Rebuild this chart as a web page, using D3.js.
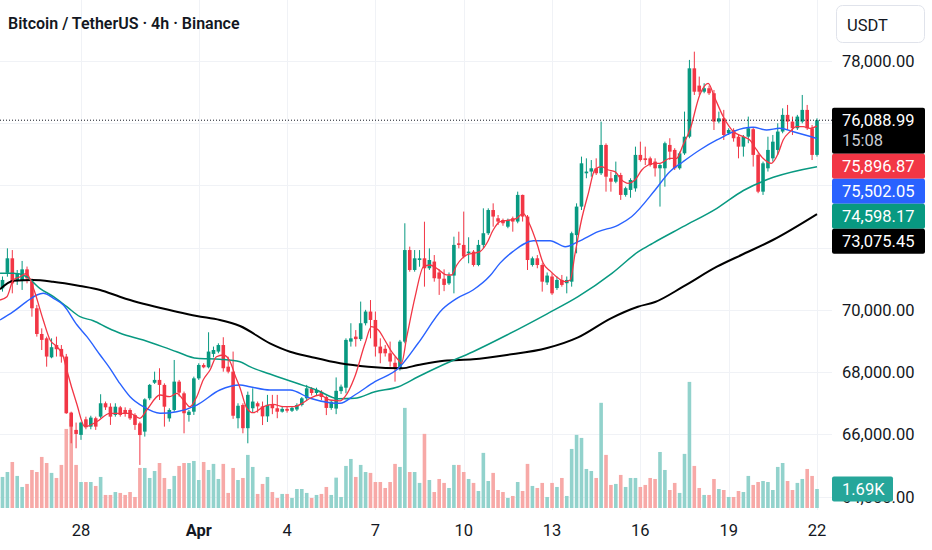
<!DOCTYPE html>
<html>
<head>
<meta charset="utf-8">
<script src="https://cdn.jsdelivr.net/npm/d3@7"></script>
<style>
  html, body { margin: 0; padding: 0; background: #fff; }
  svg { display: block; font-family: Roboto, "Noto Sans", sans-serif; }
</style>
</head>
<body>
<svg id="chart" width="932" height="550"></svg>
<script>
// BTC/USDT 4h candles, first bar = Mar 25 08:00 UTC, last bar = Apr 22 00:00 UTC
const opens = [
  70690, 71190, 71655, 70960, 70960, 71300, 70905, 70050, 69225, 69085, 68475, 68870,
  68745, 68500, 66700, 66145, 65985, 66485, 66250, 66520, 66570, 67000, 66890, 66625,
  66870, 66785, 66785, 66625, 66355, 66090, 67160, 67660, 67750, 67590, 66515, 66785,
  67695, 67320, 66625, 66730, 67800, 68230, 68155, 68585, 68660, 68870, 68175, 68015,
  66520, 66945, 66200, 66840, 67000, 66900, 66580, 66950, 66840, 66730, 66820, 66760,
  66800, 66945, 67160, 67480, 67330, 67370, 67200, 66850, 66830, 67390, 67500, 68980,
  69140, 69060, 69570, 69945, 69675, 68820, 68750, 68605, 68300, 68125, 68980, 71920,
  71280, 71600, 71655, 71335, 71550, 71200, 71000, 70850, 71100, 72135, 72085, 71815,
  71870, 71440, 72085, 72460, 73205, 72940, 72885, 72670, 72940, 72835, 73690, 72995,
  71440, 71655, 71440, 70880, 71070, 70700, 70960, 70855, 70905, 72400, 73315, 74385,
  74440, 74545, 74385, 75295, 74225, 74115, 74330, 73690, 73850, 73900, 74975, 74865,
  74865, 74760, 74545, 74545, 75295, 75135, 74545, 75025, 75560, 77755, 77200, 77005,
  77115, 76955, 76045, 76150, 75670, 75775, 75560, 75240, 75560, 75800, 74975, 73795,
  74545, 74865, 75135, 75725, 76260, 76045, 75830, 76045, 76420, 75830, 74975
];
const highs = [
  71070, 71975, 71920, 71280, 71570, 71390, 71010, 70160, 69405, 69140, 69085, 69140,
  68870, 68585, 66730, 66380, 66410, 66570, 66600, 66570, 67290, 67055, 67000, 67000,
  66915, 66870, 66840, 66680, 66410, 67160, 67620, 68015, 68125, 67640, 66840, 68390,
  67750, 67375, 66785, 67855, 68285, 68285, 69280, 68820, 68925, 69120, 68495, 68660,
  67000, 67000, 67375, 67480, 67055, 67055, 67270, 67270, 67270, 66900, 66880, 66900,
  67000, 67200, 67590, 67520, 67500, 67420, 67250, 67100, 67830, 67600, 69085, 69570,
  69350, 70265, 70000, 70315, 69945, 69085, 68870, 68980, 68500, 69035, 72780, 72030,
  71920, 71920, 72830, 71975, 71760, 71300, 71300, 71200, 72350, 72510, 73155, 72330,
  71920, 72245, 73260, 73260, 73420, 73045, 72930, 72930, 72995, 73795, 73700, 73045,
  71710, 71760, 71495, 71200, 71175, 71070, 71120, 71070, 72510, 73420, 74920, 74865,
  74810, 74865, 76045, 75345, 74440, 74760, 74400, 73955, 74225, 75240, 75400, 75240,
  74920, 74865, 74705, 75400, 75510, 75190, 75080, 76365, 78025, 78290, 77490, 77275,
  77200, 77060, 76365, 76420, 75830, 75830, 75615, 75615, 76205, 75850, 75025, 74760,
  75560, 75615, 75990, 76470, 76580, 76205, 76260, 76900, 76580, 75935, 76150
];
const lows = [
  70585, 71065, 70530, 70800, 70640, 70850, 69780, 69140, 68710, 68175, 68445, 68500,
  68305, 66660, 65715, 65555, 65825, 66165, 66165, 66145, 66520, 66785, 66305, 66570,
  66570, 66570, 66465, 66145, 65020, 65930, 67100, 67620, 67105, 66250, 66410, 66730,
  67215, 66035, 66410, 66625, 67750, 68125, 68120, 68475, 68605, 68015, 67960, 66500,
  66195, 66035, 65715, 66700, 66700, 66300, 66400, 66650, 66520, 66700, 66700, 66720,
  66750, 66900, 67100, 67250, 67250, 67100, 66620, 66790, 66650, 67300, 67320, 68820,
  68820, 69000, 69500, 69085, 68500, 68285, 68500, 68175, 67695, 68050, 68925, 71225,
  71225, 71385, 70745, 71280, 70905, 70480, 70600, 70800, 70530, 71975, 71655, 71495,
  71390, 71400, 71975, 72405, 72670, 72725, 72700, 72620, 72510, 72780, 72835, 71280,
  71390, 71335, 70585, 70800, 70480, 70640, 70745, 70530, 70745, 71815, 73205, 74225,
  74275, 74330, 74330, 73795, 73795, 74065, 73530, 73635, 73600, 73795, 74760, 74650,
  74600, 74280, 73315, 73955, 74810, 74490, 74500, 74975, 75510, 76900, 76900, 76955,
  76900, 75775, 75990, 75455, 75615, 75400, 74865, 74920, 75350, 74600, 73745, 73690,
  74440, 74760, 74975, 75670, 75775, 75615, 75775, 75990, 75775, 74810, 74920
];
const closes = [
  70960, 71655, 70850, 71170, 71300, 71010, 70050, 69225, 69035, 68500, 68800, 68735,
  68500, 66680, 66250, 66015, 66380, 66230, 66540, 66250, 67000, 66870, 66570, 66890,
  66625, 66680, 66515, 66305, 65980, 67125, 67590, 67750, 67590, 66890, 66785, 67695,
  67340, 66680, 66730, 67800, 68230, 68155, 68660, 68710, 68870, 68125, 68015, 66600,
  66920, 66200, 67270, 67055, 66900, 66580, 66950, 66840, 66730, 66820, 66760, 66850,
  66945, 67160, 67480, 67330, 67430, 67200, 66850, 67050, 67400, 67535, 69035, 69085,
  69060, 69570, 69945, 69675, 68820, 68605, 68605, 68340, 68125, 68980, 71920, 71280,
  71655, 71655, 71335, 71600, 71015, 71000, 70800, 71100, 72085, 72085, 71710, 71870,
  71440, 72085, 72460, 73205, 72995, 72835, 72780, 72885, 72835, 73690, 72995, 71600,
  71655, 71440, 70905, 71100, 70530, 70960, 70800, 70960, 72460, 73315, 74705, 74440,
  74545, 74385, 75295, 74275, 74115, 74330, 73690, 73905, 74170, 74975, 74810, 74810,
  74650, 74545, 74650, 75350, 75080, 74545, 75025, 75560, 77755, 77005, 77005, 77115,
  76955, 76045, 76150, 75615, 75775, 75510, 75240, 75560, 75830, 74975, 73795, 74705,
  75135, 75400, 75725, 76260, 76045, 75830, 76205, 76420, 75830, 74975, 76088.99
];
const volumes = [
  2760, 3200, 4090, 2850, 1870, 2140, 3380, 3200, 4540, 4000, 3120, 2670,
  3830, 7030, 7920, 3830, 2310, 2310, 2310, 1960, 2760, 1160, 1160, 1420,
  1340, 1160, 1420, 980, 3560, 3560, 2670, 3290, 4000, 2670, 1690, 2850,
  3740, 4000, 4000, 4180, 2490, 4090, 3380, 3920, 2580, 3920, 1340, 3560,
  2490, 2670, 4720, 3650, 1250, 2140, 2760, 1420, 890, 1250, 1250, 890,
  1690, 1690, 1340, 890, 1160, 1250, 1870, 1160, 2700, 980, 3740, 4360,
  2760, 3830, 3200, 3120, 2310, 2310, 1780, 2310, 3920, 3650, 8900, 3200,
  3200, 2230, 6590, 2490, 1420, 2580, 2230, 1780, 3830, 3830, 3200, 2580,
  2230, 1510, 4900, 2400, 3120, 1600, 1420, 890, 1070, 2310, 1510, 3920,
  1960, 1780, 2230, 980, 2230, 1870, 2670, 1070, 5250, 6500, 6230, 3470,
  3290, 2670, 9350, 4720, 2050, 2140, 2940, 1870, 2670, 2670, 1870, 2050,
  2670, 2580, 4980, 3380, 1600, 2230, 1340, 4810, 11210, 3740, 1780, 1160,
  1160, 2580, 1690, 1600, 980, 980, 1510, 1420, 2850, 2050, 2310, 2400,
  2310, 1600, 3650, 4000, 2400, 1600, 2230, 2580, 3470, 2850, 1690
];

// moving averages as [bars since Mar 28 00:00, value]
const maRed = [
  [-16.5, 70316], [-15.1, 70422], [-13.8, 70958], [-12.4, 71064], [-11.1, 71173], [-9.7, 70692],
  [-7.7, 69674], [-6.3, 69032], [-4.9, 68817], [-3.6, 68495], [-2.9, 68068], [-0.9, 66999],
  [0.8, 66248], [3.2, 66408], [5.9, 66678], [7.9, 66678], [10, 66678], [12, 66518],
  [13.4, 66784], [16.1, 67265], [18.1, 67211], [19.5, 67320], [20.9, 67105], [22.2, 66890],
  [23.6, 67211], [24.9, 67747], [26.3, 68068], [27.6, 68495], [29, 68550], [30.4, 68335],
  [31.5, 67853], [32.4, 67500], [33.8, 66839], [35.1, 66697], [37.2, 66890], [39.2, 66967],
  [41.2, 66890], [43.3, 66890], [45.3, 67018], [46.7, 67160], [48.7, 67265], [50.7, 67105],
  [52.8, 67080], [53.8, 67211], [55.8, 67853], [57.9, 68926], [59.2, 69459], [60.6, 69353],
  [61.9, 69032], [63.3, 68656], [64.7, 68389], [65.3, 68284], [66.4, 69138], [68.1, 70422],
  [69.8, 71385], [71.1, 71440], [72.8, 71300], [74.5, 71120], [75.5, 71119], [76.6, 71440],
  [78.6, 71761], [80, 71816], [81.3, 71867], [82.7, 72137], [84, 72564], [85.4, 72830],
  [87.4, 72885], [88.8, 72939], [90.1, 73100], [91.5, 72724], [92.9, 72137], [94.2, 71494],
  [95.6, 71250], [97.3, 71013], [98.6, 70904], [99.7, 70958], [100.7, 71816], [102, 72885],
  [103.4, 73742], [104.7, 74490], [106.1, 74596], [107.5, 74490], [108.8, 74436], [110.2, 74169],
  [111.5, 74063], [112.9, 74169], [114.3, 74490], [115.6, 74651], [117, 74705], [118, 74705],
  [120, 74866], [121.4, 74866], [122.7, 75293], [124.1, 75775], [126.1, 76899], [127.8, 77274],
  [129.2, 76793], [130.9, 76202], [133, 75720], [135, 75560], [136.3, 75454], [137.7, 75133],
  [139, 74866], [140.7, 74705], [142.1, 75027], [143.1, 75454], [144.5, 75720], [145.8, 75881],
  [147.2, 75881], [148.6, 75829], [150, 75896.87]
];
const maBlue = [
  [-16.5, 69674], [-13.8, 69941], [-11.1, 70262], [-9, 70477], [-7.7, 70531], [-5.6, 70371],
  [-3.6, 70156], [-0.8, 69513], [1.2, 69138], [3.9, 68550], [5.9, 68123], [7.9, 67641],
  [10, 67211], [12.7, 66890], [16.1, 66678], [19.5, 66729], [23.6, 66944], [28.3, 67426],
  [32.4, 67587], [34.4, 67532], [38.5, 67426], [42.6, 67426], [46.7, 67160], [50.7, 67018],
  [52.8, 67000], [55.8, 67265], [59.9, 67693], [64.7, 68123], [68.7, 68926], [73.7, 70027],
  [76.6, 70371], [79.9, 70637], [83.4, 71100], [85.4, 71500], [88, 71870], [92.2, 72220],
  [95.6, 72220], [98.7, 72028], [101.3, 72188], [105.4, 72509], [109.5, 72724], [112.2, 72991],
  [117, 73848], [120, 74436], [122.7, 74757], [126.1, 75133], [129.6, 75454], [135, 75829],
  [137, 75861], [139.7, 75775], [142.4, 75829], [145.2, 75720], [150, 75502.05]
];
const maGreen = [
  [-16.5, 71173], [-13.8, 71173], [-11.1, 71064], [-8.4, 70692], [-5.6, 70422], [-2.9, 70101],
  [-0.2, 69780], [2.5, 69651], [5.5, 69417], [8, 69247], [12.7, 69032], [19.5, 68656],
  [23.6, 68444], [28.3, 68412], [32.4, 68335], [34.4, 68175], [38.5, 67940], [44, 67641],
  [48, 67427], [52.5, 67144], [55.8, 67160], [59.9, 67372], [64.7, 67532], [68.7, 67853],
  [73.7, 68229], [79.9, 68656], [86.8, 69192], [95, 69873], [101.3, 70422], [108.2, 71173],
  [113.6, 71867], [116.5, 72137], [122.7, 72670], [129.6, 73261], [135, 73832], [141.1, 74256],
  [150, 74598.17]
];
const maBlack = [
  [-16.5, 70660], [-13.8, 70936], [-9.8, 70958], [-5.7, 70904], [-0.2, 70766], [3.9, 70637],
  [7.9, 70422], [10, 70316], [19.5, 69940], [23.6, 69802], [28.3, 69674], [32.4, 69480],
  [38.5, 68926], [42.6, 68656], [46.7, 68495], [52.8, 68284], [58.5, 68174], [65.4, 68123],
  [68.7, 68229], [74, 68367], [79.9, 68412], [86.8, 68550], [95, 68775], [101.3, 69118],
  [108, 69729], [113.5, 70101], [117, 70252], [122.7, 70743], [129.6, 71385], [135, 71793],
  [141, 72243], [150, 73075.45]
];

const priceTicks = [64000, 66000, 68000, 70000, 72000, 74000, 76000, 78000];
const dayTicks = ['2025-03-28', '2025-04-01', '2025-04-04', '2025-04-07', '2025-04-10',
                  '2025-04-13', '2025-04-16', '2025-04-19', '2025-04-22'];
const countdown = '15:08';

const UP = '#089981', DOWN = '#F23645';
const VOL_UP = '#92d2cc', VOL_DOWN = '#f7a9a7';
const plotRight = 832, volBase = 508;

const base = Date.UTC(2025, 2, 28);
const H4 = 4 * 3600 * 1000;
const firstBar = -16;
const barTime = k => new Date(base + (firstBar + k) * H4);
const maTime = i => new Date(base + i * H4);

const svg = d3.select('#chart');

const x = d3.scaleUtc()
  .domain([new Date(base), new Date(Date.UTC(2025, 3, 22))])
  .range([81, 817]);
const y = d3.scaleLinear().domain([64000, 78000]).range([496.7, 60.7]);
const yVol = d3.scaleLinear().domain([0, 12000]).range([volBase, volBase - 135]);

const bars = closes.map((c, k) => ({
  t: barTime(k), o: opens[k], h: highs[k], l: lows[k], c, v: volumes[k], up: c >= opens[k]
}));

// grid
const grid = svg.append('g').attr('stroke', '#f0f2f6').attr('stroke-width', 1);
grid.selectAll('.hg').data(priceTicks).join('line')
  .attr('x1', 0).attr('x2', plotRight)
  .attr('y1', d => Math.round(y(d)) + 0.5).attr('y2', d => Math.round(y(d)) + 0.5);
grid.selectAll('.vg').data(dayTicks).join('line')
  .attr('x1', d => Math.round(x(new Date(d))) + 0.5).attr('x2', d => Math.round(x(new Date(d))) + 0.5)
  .attr('y1', 0).attr('y2', volBase + 2);

svg.append('clipPath').attr('id', 'plot')
  .append('rect').attr('x', 0).attr('y', 0).attr('width', plotRight).attr('height', volBase);

const plot = svg.append('g').attr('clip-path', 'url(#plot)');

// volume
plot.append('g').selectAll('rect').data(bars).join('rect')
  .attr('x', d => x(d.t) - 1.8)
  .attr('width', 3.6)
  .attr('y', d => yVol(d.v))
  .attr('height', d => volBase - yVol(d.v))
  .attr('fill', d => d.up ? VOL_UP : VOL_DOWN);

// candles
const candle = plot.append('g').selectAll('g').data(bars).join('g');
candle.append('line')
  .attr('x1', d => x(d.t)).attr('x2', d => x(d.t))
  .attr('y1', d => y(d.h)).attr('y2', d => y(d.l))
  .attr('stroke', d => d.up ? UP : DOWN)
  .attr('stroke-width', 1);
candle.append('rect')
  .attr('x', d => x(d.t) - 1.8)
  .attr('width', 3.6)
  .attr('y', d => y(Math.max(d.o, d.c)))
  .attr('height', d => Math.max(1, Math.abs(y(d.o) - y(d.c))))
  .attr('fill', d => d.up ? UP : DOWN);

// moving averages
const line = d3.line()
  .x(d => x(maTime(d[0])))
  .y(d => y(d[1]))
  .curve(d3.curveMonotoneX);
[
  { data: maBlack, color: '#000000', width: 2 },
  { data: maGreen, color: '#089981', width: 1.5 },
  { data: maBlue, color: '#2962FF', width: 1.4 },
  { data: maRed, color: '#F23645', width: 1.3 }
].forEach(s => {
  plot.append('path')
    .attr('d', line(s.data))
    .attr('fill', 'none')
    .attr('stroke', s.color)
    .attr('stroke-width', s.width)
    .attr('stroke-linejoin', 'round');
});

// last price dotted line
const last = closes[closes.length - 1];
svg.append('line')
  .attr('x1', 0).attr('x2', plotRight)
  .attr('y1', y(last)).attr('y2', y(last))
  .attr('stroke', '#131722')
  .attr('stroke-width', 1)
  .attr('stroke-dasharray', '1,2');

// title
svg.append('text')
  .attr('x', 8).attr('y', 29)
  .attr('font-size', 16).attr('font-weight', 600)
  .attr('fill', '#131722')
  .text('Bitcoin / TetherUS · 4h · Binance');

// price labels stacked under the last price (computed first so covered ticks can be skipped)
const tags = [
  { v: maRed[maRed.length - 1][1], color: '#F23645' },
  { v: maBlue[maBlue.length - 1][1], color: '#2962FF' },
  { v: maGreen[maGreen.length - 1][1], color: '#089981' },
  { v: maBlack[maBlack.length - 1][1], color: '#000000' }
];
const tagTop = y(last) - 12.5;
const tagBottom = tagTop + 46 + tags.length * 25;

// price axis: ticks hidden behind the label stack are not drawn
const fmt = d3.format(',.2f');
svg.append('g').selectAll('text')
  .data(priceTicks.filter(d => y(d) < tagTop - 6 || y(d) > tagBottom + 6))
  .join('text')
  .attr('x', 842).attr('y', d => y(d) + 6)
  .attr('font-size', 16.5).attr('fill', '#131722')
  .text(d => fmt(d));

// time axis
svg.append('g').selectAll('text').data(dayTicks).join('text')
  .attr('x', d => x(new Date(d))).attr('y', 536)
  .attr('text-anchor', 'middle')
  .attr('font-size', 16.5).attr('fill', '#131722')
  .attr('font-weight', d => new Date(d).getUTCDate() === 1 ? 700 : 400)
  .text(d => {
    const t = new Date(d);
    return t.getUTCDate() === 1 ? d3.utcFormat('%b')(t) : d3.utcFormat('%-d')(t);
  });

// currency box
svg.append('rect')
  .attr('x', 836.5).attr('y', 5.5).attr('width', 88).attr('height', 37).attr('rx', 6)
  .attr('fill', '#fff').attr('stroke', '#e0e3eb');
svg.append('text')
  .attr('x', 847).attr('y', 30.5)
  .attr('font-size', 16.5).attr('fill', '#131722')
  .text('USDT');

const tagLayer = svg.append('g');
tagLayer.append('rect')
  .attr('x', 832).attr('y', tagTop).attr('width', 93).attr('height', 46).attr('rx', 2)
  .attr('fill', '#000');
tagLayer.append('text')
  .attr('x', 842).attr('y', tagTop + 18.5)
  .attr('font-size', 16.5).attr('fill', '#fff')
  .text(fmt(last));
tagLayer.append('text')
  .attr('x', 842).attr('y', tagTop + 38.5)
  .attr('font-size', 16.5).attr('fill', '#c9ccd3')
  .text(countdown);
tags.forEach((tg, k) => {
  const top = tagTop + 46 + k * 25;
  tagLayer.append('rect')
    .attr('x', 832).attr('y', top).attr('width', 93).attr('height', 25).attr('rx', 2)
    .attr('fill', tg.color);
  tagLayer.append('text')
    .attr('x', 842).attr('y', top + 18.5)
    .attr('font-size', 16.5).attr('fill', '#fff')
    .text(fmt(tg.v));
});

// volume label
const lastVol = volumes[volumes.length - 1];
const vTop = yVol(lastVol) - 12.5;
svg.append('rect')
  .attr('x', 832).attr('y', vTop).attr('width', 61).attr('height', 25).attr('rx', 2)
  .attr('fill', '#26a69a');
svg.append('text')
  .attr('x', 842).attr('y', vTop + 18.5)
  .attr('font-size', 16.5).attr('fill', '#fff')
  .text(d3.format('.3s')(lastVol).toUpperCase());
</script>
</body>
</html>
